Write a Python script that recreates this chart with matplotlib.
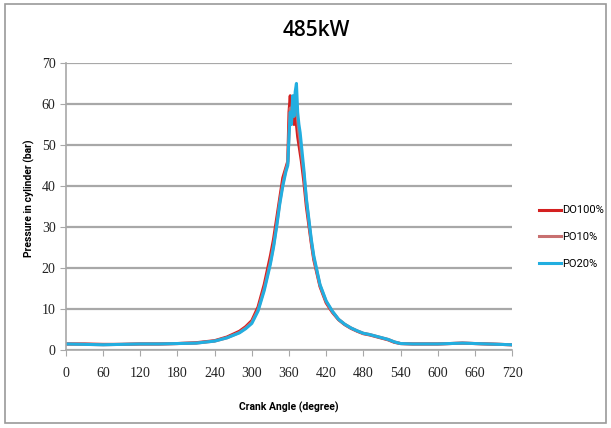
import matplotlib.pyplot as plt
from matplotlib.patches import Rectangle

# crank angle (deg) and cylinder pressure (bar)
angle = [0, 30, 60, 90, 120, 150, 180, 210, 240, 260, 280, 290, 300, 310, 320,
         330, 335, 340, 345, 350, 355, 358, 360, 362, 364, 366, 368, 370, 372,
         374, 376, 378, 380, 384, 388, 392, 396, 400, 410, 420, 430, 440, 450,
         460, 470, 480, 490, 500, 510, 520, 530, 540, 560, 600, 640, 680, 720]

do100 = [1.5, 1.5, 1.4, 1.4, 1.5, 1.5, 1.6, 1.8, 2.3, 3.2, 4.6, 5.7, 7.2, 10.5, 16.0,
         23.0, 27.0, 32.0, 37.0, 42.0, 44.5, 46.0, 58.0, 62.0, 56.0, 60.0, 55.0, 58.0, 55.0,
         52.0, 50.0, 48.0, 46.0, 41.0, 35.0, 30.5, 26.0, 22.0, 15.5, 11.5, 9.2, 7.4, 6.2,
         5.3, 4.6, 4.0, 3.7, 3.3, 2.9, 2.5, 1.9, 1.6, 1.5, 1.5, 1.7, 1.5, 1.3]

po10 = [1.5, 1.4, 1.3, 1.4, 1.5, 1.5, 1.6, 1.7, 2.2, 3.0, 4.3, 5.4, 6.8, 9.8, 15.0,
        21.5, 25.5, 30.5, 36.0, 40.5, 44.0, 45.5, 53.0, 59.0, 56.0, 61.0, 57.0, 61.0, 60.0,
        56.0, 53.0, 51.0, 48.0, 43.0, 36.5, 31.5, 26.5, 22.5, 15.8, 11.8, 9.4, 7.5, 6.3,
        5.4, 4.7, 4.1, 3.8, 3.4, 3.0, 2.6, 2.0, 1.6, 1.5, 1.5, 1.7, 1.5, 1.3]

po20 = [1.5, 1.4, 1.3, 1.4, 1.5, 1.5, 1.6, 1.7, 2.2, 3.0, 4.2, 5.2, 6.5, 9.5, 14.5,
        21.0, 25.0, 30.0, 35.5, 40.0, 43.5, 45.0, 52.0, 58.0, 55.0, 62.0, 57.0, 63.0, 65.0,
        58.0, 55.0, 53.0, 50.0, 44.0, 37.0, 32.0, 27.0, 23.0, 16.0, 12.0, 9.5, 7.5, 6.3,
        5.4, 4.7, 4.1, 3.8, 3.4, 3.0, 2.6, 2.0, 1.6, 1.5, 1.5, 1.7, 1.5, 1.3]

x_ticks = list(range(0, 721, 60))
y_ticks = list(range(0, 71, 10))

sans = ['Roboto', 'DejaVu Sans']

fig = plt.figure(figsize=(6.11, 4.28), dpi=100)
ax = fig.add_axes([0.108, 0.182, 0.73, 0.671])

ax.plot(angle, do100, color='#d42020', lw=2.2, label='DO100%')
ax.plot(angle, po10, color='#c87070', lw=2.2, label='PO10%')
ax.plot(angle, po20, color='#22aee0', lw=2.2, label='PO20%')

ax.set_xlim(0, 720)
ax.set_ylim(0, 70)
ax.set_xticks(x_ticks)
ax.set_yticks(y_ticks)
ax.yaxis.grid(True, color='#a8a8a8', lw=1.6)
ax.set_axisbelow(True)
for s in ['top', 'right']:
    ax.spines[s].set_visible(False)
for s in ['left', 'bottom']:
    ax.spines[s].set_color('#a8a8a8')
    ax.spines[s].set_linewidth(1.2)
ax.tick_params(axis='both', colors='#a8a8a8', length=4, labelcolor='#222222')
ax.tick_params(axis='x', pad=8)
for lab in ax.get_xticklabels() + ax.get_yticklabels():
    lab.set_family('Liberation Serif')
    lab.set_fontsize(10)

ax.set_xlabel('Crank Angle (degree)', fontsize=7.5, fontweight='bold', family=sans)
ax.xaxis.set_label_coords(0.5, -0.18)
ax.set_ylabel('Pressure in cylinder (bar)', fontsize=7.5, fontweight='bold', family=sans)
ax.yaxis.set_label_coords(-0.07, 0.53)
fig.text(0.518, 0.928, '485kW', ha='center', va='center', fontsize=15,
         family='Open Sans', fontweight='semibold')

fig.legend(loc='center left', bbox_to_anchor=(0.865, 0.446), frameon=False,
           handlelength=2.0, handletextpad=0.1, labelspacing=1.5,
           prop={'family': sans, 'size': 8})

fig.patches.append(Rectangle((0.008, 0.012), 0.984, 0.978, transform=fig.transFigure,
                             fill=False, edgecolor='#9a9a9a', lw=1.2))

fig.savefig('out.png', dpi=100)
